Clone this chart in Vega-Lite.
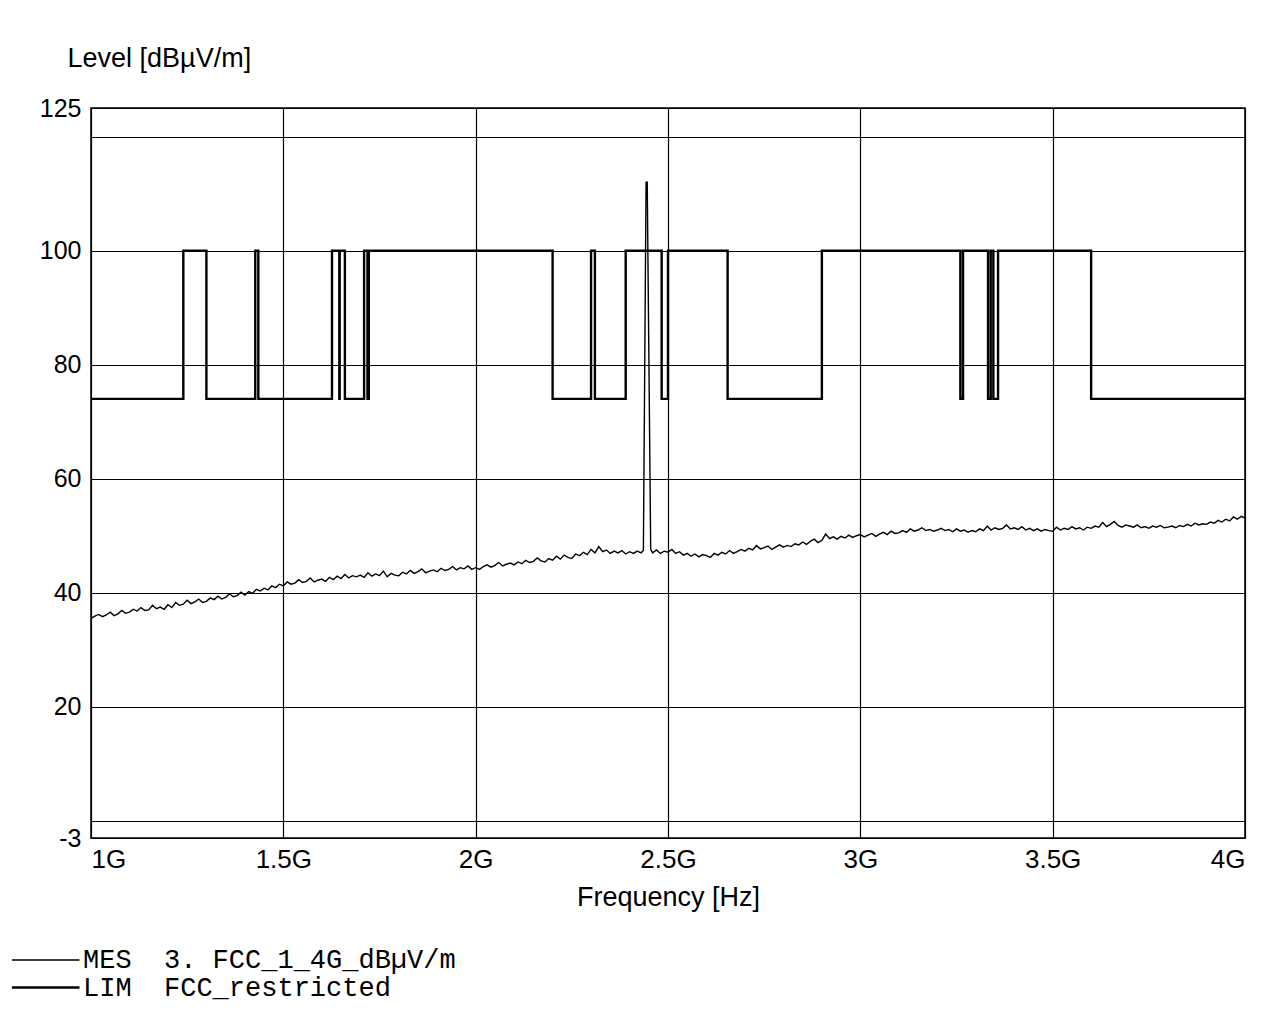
{
  "$schema": "https://vega.github.io/schema/vega-lite/v6.json",
  "width": 1154,
  "height": 730,
  "autosize": {"type": "none"},
  "padding": {"left": 91, "top": 108, "right": 20, "bottom": 182},
  "background": "white",
  "config": {
    "font": "Liberation Sans",
    "view": {"stroke": "black", "strokeWidth": 1.5},
    "axis": {"labelColor": "black", "titleColor": "black", "titleFontWeight": "normal", "gridColor": "black", "gridOpacity": 1, "gridWidth": 1.2, "domain": false, "ticks": false}
  },
  "datasets": {
    "lim": [
      {"f": 1.0, "v": 74, "i": 0}, {"f": 1.24, "v": 74, "i": 1}, {"f": 1.24, "v": 100, "i": 2}, {"f": 1.3, "v": 100, "i": 3},
      {"f": 1.3, "v": 74, "i": 4}, {"f": 1.427, "v": 74, "i": 5}, {"f": 1.427, "v": 100, "i": 6}, {"f": 1.435, "v": 100, "i": 7},
      {"f": 1.435, "v": 74, "i": 8}, {"f": 1.6265, "v": 74, "i": 9}, {"f": 1.6265, "v": 100, "i": 10}, {"f": 1.6455, "v": 100, "i": 11},
      {"f": 1.6455, "v": 74, "i": 12}, {"f": 1.6465, "v": 74, "i": 13}, {"f": 1.6465, "v": 100, "i": 14}, {"f": 1.66, "v": 100, "i": 15},
      {"f": 1.66, "v": 74, "i": 16}, {"f": 1.71, "v": 74, "i": 17}, {"f": 1.71, "v": 100, "i": 18}, {"f": 1.7188, "v": 100, "i": 19},
      {"f": 1.7188, "v": 74, "i": 20}, {"f": 1.7222, "v": 74, "i": 21}, {"f": 1.7222, "v": 100, "i": 22}, {"f": 2.2, "v": 100, "i": 23},
      {"f": 2.2, "v": 74, "i": 24}, {"f": 2.3, "v": 74, "i": 25}, {"f": 2.3, "v": 100, "i": 26}, {"f": 2.31, "v": 100, "i": 27},
      {"f": 2.31, "v": 74, "i": 28}, {"f": 2.39, "v": 74, "i": 29}, {"f": 2.39, "v": 100, "i": 30}, {"f": 2.4835, "v": 100, "i": 31},
      {"f": 2.4835, "v": 74, "i": 32}, {"f": 2.5, "v": 74, "i": 33}, {"f": 2.5, "v": 100, "i": 34}, {"f": 2.655, "v": 100, "i": 35},
      {"f": 2.655, "v": 74, "i": 36}, {"f": 2.9, "v": 74, "i": 37}, {"f": 2.9, "v": 100, "i": 38}, {"f": 3.26, "v": 100, "i": 39},
      {"f": 3.26, "v": 74, "i": 40}, {"f": 3.267, "v": 74, "i": 41}, {"f": 3.267, "v": 100, "i": 42}, {"f": 3.332, "v": 100, "i": 43},
      {"f": 3.332, "v": 74, "i": 44}, {"f": 3.339, "v": 74, "i": 45}, {"f": 3.339, "v": 100, "i": 46}, {"f": 3.3458, "v": 100, "i": 47},
      {"f": 3.3458, "v": 74, "i": 48}, {"f": 3.358, "v": 74, "i": 49}, {"f": 3.358, "v": 100, "i": 50}, {"f": 3.6, "v": 100, "i": 51},
      {"f": 3.6, "v": 74, "i": 52}, {"f": 4.0, "v": 74, "i": 53}
    ],
    "mes": [
      {"f":1.00,"v":35.5},{"f":1.01,"v":35.9},{"f":1.02,"v":36.2},{"f":1.03,"v":35.8},{"f":1.04,"v":36.1},{"f":1.05,"v":36.6},{"f":1.06,"v":36.0},{"f":1.07,"v":36.3},{"f":1.08,"v":36.9},{"f":1.09,"v":36.4},
      {"f":1.10,"v":36.6},{"f":1.11,"v":37.1},{"f":1.12,"v":36.8},{"f":1.13,"v":37.4},{"f":1.14,"v":36.9},{"f":1.15,"v":37.0},{"f":1.16,"v":37.8},{"f":1.17,"v":37.2},{"f":1.18,"v":37.5},{"f":1.19,"v":37.1},
      {"f":1.20,"v":37.9},{"f":1.21,"v":37.4},{"f":1.22,"v":38.3},{"f":1.23,"v":37.8},{"f":1.24,"v":38.0},{"f":1.25,"v":38.7},{"f":1.26,"v":38.1},{"f":1.27,"v":38.4},{"f":1.28,"v":38.9},{"f":1.29,"v":38.3},
      {"f":1.30,"v":38.5},{"f":1.31,"v":39.1},{"f":1.32,"v":38.8},{"f":1.33,"v":39.4},{"f":1.34,"v":38.9},{"f":1.35,"v":39.2},{"f":1.36,"v":39.8},{"f":1.37,"v":39.3},{"f":1.38,"v":39.5},{"f":1.39,"v":40.1},
      {"f":1.40,"v":39.6},{"f":1.41,"v":40.2},{"f":1.42,"v":39.9},{"f":1.43,"v":40.6},{"f":1.44,"v":40.3},{"f":1.45,"v":40.8},{"f":1.46,"v":40.5},{"f":1.47,"v":41.2},{"f":1.48,"v":40.9},{"f":1.49,"v":41.5},
      {"f":1.50,"v":41.2},{"f":1.51,"v":41.9},{"f":1.52,"v":41.5},{"f":1.53,"v":41.7},{"f":1.54,"v":42.3},{"f":1.55,"v":41.8},{"f":1.56,"v":42.0},{"f":1.57,"v":42.6},{"f":1.58,"v":41.9},{"f":1.59,"v":42.2},
      {"f":1.60,"v":42.4},{"f":1.61,"v":42.0},{"f":1.62,"v":42.7},{"f":1.63,"v":42.3},{"f":1.64,"v":42.9},{"f":1.65,"v":42.5},{"f":1.66,"v":43.2},{"f":1.67,"v":42.6},{"f":1.68,"v":43.0},{"f":1.69,"v":42.8},
      {"f":1.70,"v":43.1},{"f":1.71,"v":42.7},{"f":1.72,"v":43.5},{"f":1.73,"v":42.9},{"f":1.74,"v":43.3},{"f":1.75,"v":43.0},{"f":1.76,"v":43.8},{"f":1.77,"v":42.8},{"f":1.78,"v":43.4},{"f":1.79,"v":43.1},
      {"f":1.80,"v":43.0},{"f":1.81,"v":43.6},{"f":1.82,"v":43.3},{"f":1.83,"v":43.9},{"f":1.84,"v":43.4},{"f":1.85,"v":43.7},{"f":1.86,"v":44.2},{"f":1.87,"v":43.5},{"f":1.88,"v":43.8},{"f":1.89,"v":44.0},
      {"f":1.90,"v":43.7},{"f":1.91,"v":44.3},{"f":1.92,"v":43.9},{"f":1.93,"v":44.1},{"f":1.94,"v":44.6},{"f":1.95,"v":44.0},{"f":1.96,"v":44.4},{"f":1.97,"v":44.2},{"f":1.98,"v":44.7},{"f":1.99,"v":44.1},
      {"f":2.00,"v":44.4},{"f":2.01,"v":44.1},{"f":2.02,"v":44.6},{"f":2.03,"v":44.9},{"f":2.04,"v":44.5},{"f":2.05,"v":44.8},{"f":2.06,"v":45.3},{"f":2.07,"v":44.7},{"f":2.08,"v":45.0},{"f":2.09,"v":45.2},
      {"f":2.10,"v":44.9},{"f":2.11,"v":45.4},{"f":2.12,"v":45.1},{"f":2.13,"v":45.7},{"f":2.14,"v":45.3},{"f":2.15,"v":45.5},{"f":2.16,"v":46.1},{"f":2.17,"v":45.6},{"f":2.18,"v":45.4},{"f":2.19,"v":46.0},
      {"f":2.20,"v":45.7},{"f":2.21,"v":46.4},{"f":2.22,"v":45.9},{"f":2.23,"v":46.6},{"f":2.24,"v":46.2},{"f":2.25,"v":46.0},{"f":2.26,"v":46.8},{"f":2.27,"v":46.5},{"f":2.28,"v":47.1},{"f":2.29,"v":46.7},
      {"f":2.30,"v":47.6},{"f":2.31,"v":47.0},{"f":2.32,"v":48.1},{"f":2.33,"v":47.2},{"f":2.34,"v":47.5},{"f":2.35,"v":46.9},{"f":2.36,"v":47.3},{"f":2.37,"v":47.0},{"f":2.38,"v":47.4},{"f":2.39,"v":46.8},
      {"f":2.40,"v":47.2},{"f":2.41,"v":46.9},{"f":2.42,"v":47.3},{"f":2.43,"v":47.0},{"f":2.436,"v":47.4},{"f":2.443,"v":112},{"f":2.446,"v":112},{"f":2.455,"v":47.6},
      {"f":2.46,"v":47.0},{"f":2.47,"v":47.5},{"f":2.48,"v":46.9},{"f":2.49,"v":47.3},
      {"f":2.50,"v":47.1},{"f":2.51,"v":47.6},{"f":2.52,"v":46.9},{"f":2.53,"v":47.2},{"f":2.54,"v":46.6},{"f":2.55,"v":46.9},{"f":2.56,"v":46.4},{"f":2.57,"v":46.8},{"f":2.58,"v":46.3},{"f":2.59,"v":46.7},
      {"f":2.60,"v":46.5},{"f":2.61,"v":46.2},{"f":2.62,"v":46.9},{"f":2.63,"v":46.6},{"f":2.64,"v":47.1},{"f":2.65,"v":46.8},{"f":2.66,"v":47.4},{"f":2.67,"v":46.9},{"f":2.68,"v":47.2},{"f":2.69,"v":47.6},
      {"f":2.70,"v":47.3},{"f":2.71,"v":47.8},{"f":2.72,"v":47.5},{"f":2.73,"v":48.3},{"f":2.74,"v":47.7},{"f":2.75,"v":47.9},{"f":2.76,"v":48.2},{"f":2.77,"v":47.6},{"f":2.78,"v":48.0},{"f":2.79,"v":48.4},
      {"f":2.80,"v":48.0},{"f":2.81,"v":48.3},{"f":2.82,"v":48.1},{"f":2.83,"v":48.6},{"f":2.84,"v":48.4},{"f":2.85,"v":48.9},{"f":2.86,"v":48.5},{"f":2.87,"v":49.0},{"f":2.88,"v":49.4},{"f":2.89,"v":48.8},
      {"f":2.90,"v":49.2},{"f":2.91,"v":50.3},{"f":2.92,"v":49.5},{"f":2.93,"v":49.8},{"f":2.94,"v":49.4},{"f":2.95,"v":49.9},{"f":2.96,"v":49.6},{"f":2.97,"v":50.1},{"f":2.98,"v":49.7},{"f":2.99,"v":50.0},
      {"f":3.00,"v":50.2},{"f":3.01,"v":49.8},{"f":3.02,"v":50.1},{"f":3.03,"v":50.4},{"f":3.04,"v":49.9},{"f":3.05,"v":50.3},{"f":3.06,"v":50.6},{"f":3.07,"v":50.2},{"f":3.08,"v":50.8},{"f":3.09,"v":50.4},
      {"f":3.10,"v":50.5},{"f":3.11,"v":50.9},{"f":3.12,"v":50.6},{"f":3.13,"v":51.2},{"f":3.14,"v":50.8},{"f":3.15,"v":51.0},{"f":3.16,"v":51.4},{"f":3.17,"v":50.9},{"f":3.18,"v":51.1},{"f":3.19,"v":50.8},
      {"f":3.20,"v":51.0},{"f":3.21,"v":51.3},{"f":3.22,"v":50.9},{"f":3.23,"v":51.1},{"f":3.24,"v":50.7},{"f":3.25,"v":51.2},{"f":3.26,"v":50.8},{"f":3.27,"v":51.0},{"f":3.28,"v":50.6},{"f":3.29,"v":50.9},
      {"f":3.30,"v":50.7},{"f":3.31,"v":51.2},{"f":3.32,"v":50.9},{"f":3.33,"v":51.7},{"f":3.34,"v":51.0},{"f":3.35,"v":51.4},{"f":3.36,"v":51.1},{"f":3.37,"v":51.3},{"f":3.38,"v":51.9},{"f":3.39,"v":51.2},
      {"f":3.40,"v":51.4},{"f":3.41,"v":51.1},{"f":3.42,"v":51.6},{"f":3.43,"v":51.0},{"f":3.44,"v":51.3},{"f":3.45,"v":50.9},{"f":3.46,"v":51.2},{"f":3.47,"v":50.8},{"f":3.48,"v":51.1},{"f":3.49,"v":50.9},
      {"f":3.50,"v":50.8},{"f":3.51,"v":51.5},{"f":3.52,"v":51.0},{"f":3.53,"v":51.3},{"f":3.54,"v":51.1},{"f":3.55,"v":51.6},{"f":3.56,"v":51.2},{"f":3.57,"v":51.4},{"f":3.58,"v":51.0},{"f":3.59,"v":51.5},
      {"f":3.60,"v":51.3},{"f":3.61,"v":51.7},{"f":3.62,"v":51.5},{"f":3.63,"v":52.3},{"f":3.64,"v":51.6},{"f":3.65,"v":52.0},{"f":3.66,"v":52.5},{"f":3.67,"v":51.8},{"f":3.68,"v":51.5},{"f":3.69,"v":51.9},
      {"f":3.70,"v":51.7},{"f":3.71,"v":51.5},{"f":3.72,"v":51.9},{"f":3.73,"v":51.4},{"f":3.74,"v":51.6},{"f":3.75,"v":51.3},{"f":3.76,"v":51.7},{"f":3.77,"v":51.5},{"f":3.78,"v":51.8},{"f":3.79,"v":51.4},
      {"f":3.80,"v":51.5},{"f":3.81,"v":51.7},{"f":3.82,"v":51.4},{"f":3.83,"v":51.8},{"f":3.84,"v":51.6},{"f":3.85,"v":52.0},{"f":3.86,"v":51.7},{"f":3.87,"v":52.2},{"f":3.88,"v":51.9},{"f":3.89,"v":52.1},
      {"f":3.90,"v":52.0},{"f":3.91,"v":52.4},{"f":3.92,"v":52.2},{"f":3.93,"v":52.7},{"f":3.94,"v":52.4},{"f":3.95,"v":52.9},{"f":3.96,"v":52.6},{"f":3.97,"v":53.3},{"f":3.98,"v":52.9},{"f":3.99,"v":53.4},
      {"f":4.00,"v":53.1}
    ]
  },
  "layer": [
    {
      "data": {"name": "lim"},
      "mark": {"type": "line", "color": "black", "clip": true},
      "encoding": {
        "x": {"field": "f", "type": "quantitative", "scale": {"domain": [1, 4], "nice": false, "zero": false},
          "axis": {"values": [1, 1.5, 2, 2.5, 3, 3.5, 4], "grid": true, "labelExpr": "datum.value + 'G'", "labelFontSize": 26, "labelPadding": 8, "labelFlush": true,
            "title": "Frequency [Hz]", "titleFontSize": 27, "titlePadding": 12}},
        "y": {"field": "v", "type": "quantitative", "scale": {"domain": [-3, 125], "nice": false, "zero": false},
          "axis": {"values": [-3, 0, 20, 40, 60, 80, 100, 120, 125], "grid": true, "labelExpr": "datum.value == 0 || datum.value == 120 ? '' : datum.value == -3 ? '-3' : datum.label", "labelFontSize": 25, "labelPadding": 10,
            "title": "Level [dBµV/m]", "titleFontSize": 27, "titleAngle": 0, "titleX": -24, "titleY": -50, "titleAlign": "left", "titleBaseline": "middle"}},
        "order": {"field": "i", "type": "quantitative"},
        "strokeWidth": {"datum": "LIM", "type": "ordinal", "scale": {"domain": ["MES", "LIM"], "range": [1.4, 2.4]},
          "legend": {"orient": "none", "legendX": -39, "legendY": 838, "title": null, "symbolType": "M-4.2,0H1", "symbolSize": 676, "symbolStrokeColor": "black",
            "labelFont": "Liberation Mono", "labelFontSize": 27, "labelColor": "black", "labelOffset": 2, "labelLimit": 0, "rowPadding": 0, "padding": 0,
            "labelExpr": "datum.label == 'MES' ? 'MES\u00a0\u00a03.\u00a0FCC_1_4G_dBµV/m' : 'LIM\u00a0\u00a0FCC_restricted'"}}
      }
    },
    {
      "data": {"name": "mes"},
      "mark": {"type": "line", "color": "black", "clip": true},
      "encoding": {
        "x": {"field": "f", "type": "quantitative"},
        "y": {"field": "v", "type": "quantitative"},
        "strokeWidth": {"datum": "MES", "type": "ordinal"}
      }
    }
  ]
}
